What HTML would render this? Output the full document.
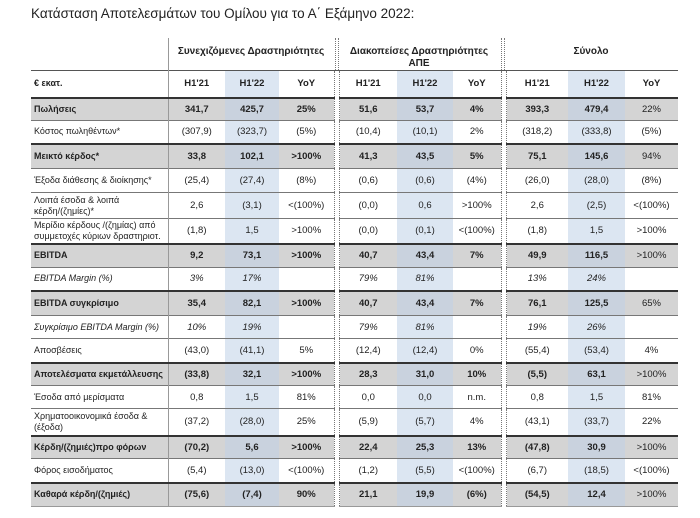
<!DOCTYPE html>
<html><head><meta charset="utf-8"><style>
body{margin:0;width:700px;height:518px;background:#fff;position:relative;font-family:"Liberation Sans","DejaVu Sans",sans-serif;overflow:hidden}
.title{position:absolute;left:31px;top:6px;font-size:13.5px;color:#222;white-space:nowrap}
.gh{position:absolute;top:40px;font-size:10px;font-weight:bold;color:#222;text-align:center;line-height:12px}
table{position:absolute;left:31px;top:70px;border-collapse:collapse;table-layout:fixed;font-size:9.5px;color:#222}
td{padding:0 2px;text-align:center;border-top:1px solid #777;overflow:hidden;white-space:nowrap}
td.l{text-align:left;padding-left:3px;line-height:11px;border-right:1px solid #999;white-space:normal;font-size:9px}
td.b2{background:#dce6f2}
td.g{border-top:none;border-left:1px dotted #777;border-right:1px dotted #777;background:#fff}
tr.bd td{background:#d4d4d4;font-weight:bold;border-top:2px solid #333}
tr.bd td.b2{background:#c9d2de}
tr.bd td.g{background:#fff;border-top:none}
tr.bd td.nb{font-weight:normal}
tr.it td{font-style:italic}
tr.hd td{font-weight:bold;border-top:1.5px solid #555}
tr.last td{border-bottom:1px solid #999}
tr.last td.g{border-bottom:none}
</style></head><body>
<div class="title">Κατάσταση Αποτελεσμάτων του Ομίλου για το Α΄ Εξάμηνο 2022:</div>
<div class="gh" style="left:168px;width:166px;top:46px">Συνεχιζόμενες Δραστηριότητες</div>
<div class="gh" style="left:338px;width:162px;top:46px">Διακοπείσες Δραστηριότητες<br>ΑΠΕ</div>
<div class="gh" style="left:505px;width:172px;top:46px">Σύνολο</div>
<div style="position:absolute;left:168px;top:38px;height:32px;border-left:1px solid #999"></div>
<div style="position:absolute;left:335px;top:38px;height:32px;width:2px;border-left:1px dotted #777;border-right:1px dotted #777"></div>
<div style="position:absolute;left:501px;top:38px;height:32px;width:2px;border-left:1px dotted #777;border-right:1px dotted #777"></div>
<table>
<colgroup><col style="width:137px"><col style="width:57px"><col style="width:54px"><col style="width:55px"><col style="width:4px"><col style="width:58px"><col style="width:56px"><col style="width:48px"><col style="width:5px"><col style="width:62px"><col style="width:57px"><col style="width:53px"></colgroup>
<tr class="hd" style="height:27px"><td class="l">€ εκατ.</td><td>H1'21</td><td class="b2">H1'22</td><td>YoY</td><td class="g"></td><td>H1'21</td><td class="b2">H1'22</td><td>YoY</td><td class="g"></td><td>H1'21</td><td class="b2">H1'22</td><td>YoY</td></tr>
<tr class="bd" style="height:23px"><td class="l">Πωλήσεις</td><td>341,7</td><td class="b2">425,7</td><td>25%</td><td class="g"></td><td>51,6</td><td class="b2">53,7</td><td>4%</td><td class="g"></td><td>393,3</td><td class="b2">479,4</td><td class="nb">22%</td></tr>
<tr style="height:23px"><td class="l">Κόστος πωληθέντων*</td><td>(307,9)</td><td class="b2">(323,7)</td><td>(5%)</td><td class="g"></td><td>(10,4)</td><td class="b2">(10,1)</td><td>2%</td><td class="g"></td><td>(318,2)</td><td class="b2">(333,8)</td><td>(5%)</td></tr>
<tr class="bd" style="height:25px"><td class="l">Μεικτό κέρδος*</td><td>33,8</td><td class="b2">102,1</td><td>&gt;100%</td><td class="g"></td><td>41,3</td><td class="b2">43,5</td><td>5%</td><td class="g"></td><td>75,1</td><td class="b2">145,6</td><td class="nb">94%</td></tr>
<tr style="height:24px"><td class="l">Έξοδα διάθεσης &amp; διοίκησης*</td><td>(25,4)</td><td class="b2">(27,4)</td><td>(8%)</td><td class="g"></td><td>(0,6)</td><td class="b2">(0,6)</td><td>(4%)</td><td class="g"></td><td>(26,0)</td><td class="b2">(28,0)</td><td>(8%)</td></tr>
<tr style="height:26px"><td class="l">Λοιπά έσοδα &amp; λοιπά κέρδη/(ζημίες)*</td><td>2,6</td><td class="b2">(3,1)</td><td>&lt;(100%)</td><td class="g"></td><td>(0,0)</td><td class="b2">0,6</td><td>&gt;100%</td><td class="g"></td><td>2,6</td><td class="b2">(2,5)</td><td>&lt;(100%)</td></tr>
<tr style="height:25px"><td class="l">Μερίδιο κέρδους /(ζημίας) από συμμετοχές κύριων δραστηριοτ.</td><td>(1,8)</td><td class="b2">1,5</td><td>&gt;100%</td><td class="g"></td><td>(0,0)</td><td class="b2">(0,1)</td><td>&lt;(100%)</td><td class="g"></td><td>(1,8)</td><td class="b2">1,5</td><td>&gt;100%</td></tr>
<tr class="bd" style="height:24px"><td class="l">EBITDA</td><td>9,2</td><td class="b2">73,1</td><td>&gt;100%</td><td class="g"></td><td>40,7</td><td class="b2">43,4</td><td>7%</td><td class="g"></td><td>49,9</td><td class="b2">116,5</td><td class="nb">&gt;100%</td></tr>
<tr class="it" style="height:23px"><td class="l">EBITDA Margin (%)</td><td>3%</td><td class="b2">17%</td><td></td><td class="g"></td><td>79%</td><td class="b2">81%</td><td></td><td class="g"></td><td>13%</td><td class="b2">24%</td><td></td></tr>
<tr class="bd" style="height:25px"><td class="l">EBITDA συγκρίσιμο</td><td>35,4</td><td class="b2">82,1</td><td>&gt;100%</td><td class="g"></td><td>40,7</td><td class="b2">43,4</td><td>7%</td><td class="g"></td><td>76,1</td><td class="b2">125,5</td><td class="nb">65%</td></tr>
<tr class="it" style="height:23px"><td class="l">Συγκρίσιμο EBITDA Margin (%)</td><td>10%</td><td class="b2">19%</td><td></td><td class="g"></td><td>79%</td><td class="b2">81%</td><td></td><td class="g"></td><td>19%</td><td class="b2">26%</td><td></td></tr>
<tr style="height:24px"><td class="l">Αποσβέσεις</td><td>(43,0)</td><td class="b2">(41,1)</td><td>5%</td><td class="g"></td><td>(12,4)</td><td class="b2">(12,4)</td><td>0%</td><td class="g"></td><td>(55,4)</td><td class="b2">(53,4)</td><td>4%</td></tr>
<tr class="bd" style="height:23px"><td class="l">Αποτελέσματα εκμετάλλευσης</td><td>(33,8)</td><td class="b2">32,1</td><td>&gt;100%</td><td class="g"></td><td>28,3</td><td class="b2">31,0</td><td>10%</td><td class="g"></td><td>(5,5)</td><td class="b2">63,1</td><td class="nb">&gt;100%</td></tr>
<tr style="height:23px"><td class="l">Έσοδα από μερίσματα</td><td>0,8</td><td class="b2">1,5</td><td>81%</td><td class="g"></td><td>0,0</td><td class="b2">0,0</td><td>n.m.</td><td class="g"></td><td>0,8</td><td class="b2">1,5</td><td>81%</td></tr>
<tr style="height:27px"><td class="l">Χρηματοοικονομικά έσοδα &amp; (έξοδα)</td><td>(37,2)</td><td class="b2">(28,0)</td><td>25%</td><td class="g"></td><td>(5,9)</td><td class="b2">(5,7)</td><td>4%</td><td class="g"></td><td>(43,1)</td><td class="b2">(33,7)</td><td>22%</td></tr>
<tr class="bd" style="height:23px"><td class="l">Κέρδη/(ζημιές)προ φόρων</td><td>(70,2)</td><td class="b2">5,6</td><td>&gt;100%</td><td class="g"></td><td>22,4</td><td class="b2">25,3</td><td>13%</td><td class="g"></td><td>(47,8)</td><td class="b2">30,9</td><td class="nb">&gt;100%</td></tr>
<tr style="height:24px"><td class="l">Φόρος εισοδήματος</td><td>(5,4)</td><td class="b2">(13,0)</td><td>&lt;(100%)</td><td class="g"></td><td>(1,2)</td><td class="b2">(5,5)</td><td>&lt;(100%)</td><td class="g"></td><td>(6,7)</td><td class="b2">(18,5)</td><td>&lt;(100%)</td></tr>
<tr class="bd last" style="height:24px"><td class="l">Καθαρά κέρδη/(ζημιές)</td><td>(75,6)</td><td class="b2">(7,4)</td><td>90%</td><td class="g"></td><td>21,1</td><td class="b2">19,9</td><td>(6%)</td><td class="g"></td><td>(54,5)</td><td class="b2">12,4</td><td class="nb">&gt;100%</td></tr>
</table>
</body></html>
